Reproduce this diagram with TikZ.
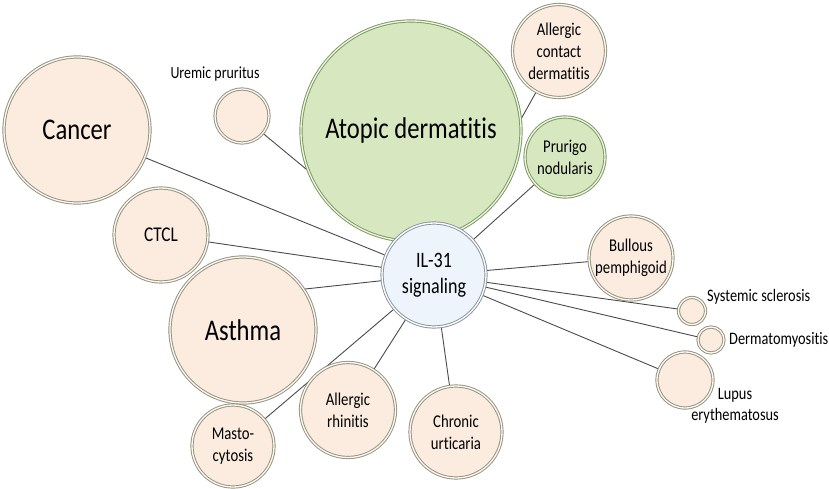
\documentclass[tikz,border=0pt]{standalone}
\usepackage{fontspec}
\setmainfont{Carlito}[FakeStretch=0.82, Ligatures=NoCommon]
\usetikzlibrary{backgrounds}
\definecolor{peach}{HTML}{FBECDF}
\definecolor{peachedge}{HTML}{929381}
\definecolor{peachhl}{HTML}{FFF9F1}
\definecolor{greenfill}{HTML}{D7E8C1}
\definecolor{greenedge}{HTML}{7E9864}
\definecolor{greenhl}{HTML}{EEF6E2}
\definecolor{bluefill}{HTML}{EDF4FC}
\definecolor{blueedge}{HTML}{8A95A0}
\definecolor{bluehl}{HTML}{FFFFFF}
\definecolor{linegray}{HTML}{4A4A4A}
\newcommand{\fsz}[2]{\fontsize{#1}{#2}\selectfont}
\tikzset{
  bub/.style={circle, inner sep=0pt, outer sep=0pt, align=center, text=black,
    fill=peach, draw=peachedge, double=peachhl, double distance=1.3pt, line width=0.95pt},
  grn/.style={bub, fill=greenfill, draw=greenedge, double=greenhl},
  blu/.style={bub, fill=bluefill, draw=blueedge, double=bluehl},
  conn/.style={draw=linegray, line width=0.9pt},
  lab/.style={align=center, inner sep=0pt, text=black},
  big/.style={font=\fsz{30}{34}},
  med/.style={font=\fsz{18}{22}},
  sml/.style={font=\fsz{17.5}{21}},
}
\begin{document}
\begin{tikzpicture}[x=1pt, y=-1pt]
\useasboundingbox (0,0) rectangle (829,489);
% bubbles
\node[bub, big, minimum size=146pt] (cancer) at (77,130) {Cancer};
\node[bub, minimum size=54pt] (uremic) at (242,116) {};
\node[grn, big, minimum size=220pt] (atopic) at (411,131) {Atopic dermatitis};
\node[bub, med, minimum size=93pt] (acd) at (559,51) {Allergic\\contact\\dermatitis};
\node[grn, med, minimum size=80pt] (prurigo) at (565,157) {Prurigo\\nodularis};
\node[bub, font=\fsz{21}{24}, minimum size=94pt] (ctcl) at (161,235) {CTCL};
\node[bub, big, minimum size=146pt] (asthma) at (243,330) {Asthma};
\node[bub, med, minimum size=84pt] (bullous) at (631,258) {Bullous\\pemphigoid};
\node[bub, minimum size=27pt] (ssc) at (692,311) {};
\node[bub, minimum size=26pt] (dm) at (711,340) {};
\node[bub, minimum size=56pt] (lupus) at (685,380) {};
\node[bub, med, minimum size=92pt] (urtic) at (456,432) {Chronic\\urticaria};
\node[bub, med, minimum size=95pt] (rhin) at (348,410) {Allergic\\rhinitis};
\node[bub, med, minimum size=82pt] (masto) at (233,446) {Masto-\\cytosis};
\node[blu, font=\fsz{22}{26}, minimum size=104pt] (il) at (434,275) {IL-31\\signaling};
% outside labels
\node[lab, font=\fsz{17}{20}] (uremiclab) at (215,74) {Uremic pruritus};
\node[lab, sml, anchor=west] (ssclab) at (707,297) {Systemic sclerosis};
\node[lab, sml, anchor=west] (dmlab) at (729,340) {Dermatomyositis};
\node[lab, sml] (lupuslab) at (735,406) {Lupus\\erythematosus};
% connectors
\begin{pgfonlayer}{background}
\draw[conn] (cancer) -- (il.center);
\draw[conn] (uremic) -- (il.center);
\draw[conn] (acd) -- (il.center);
\draw[conn] (prurigo) -- (il.center);
\draw[conn] (ctcl) -- (il.center);
\draw[conn] (asthma.34) -- (il.center);
\draw[conn] (bullous) -- (il.center);
\draw[conn] (ssc) -- (il.center);
\draw[conn] (dm) -- (il.center);
\draw[conn] (lupus) -- (il.center);
\draw[conn] (urtic) -- (il.center);
\draw[conn] (rhin) -- (il.center);
\draw[conn] (masto) -- (il.center);
\end{pgfonlayer}
\end{tikzpicture}
\end{document}
